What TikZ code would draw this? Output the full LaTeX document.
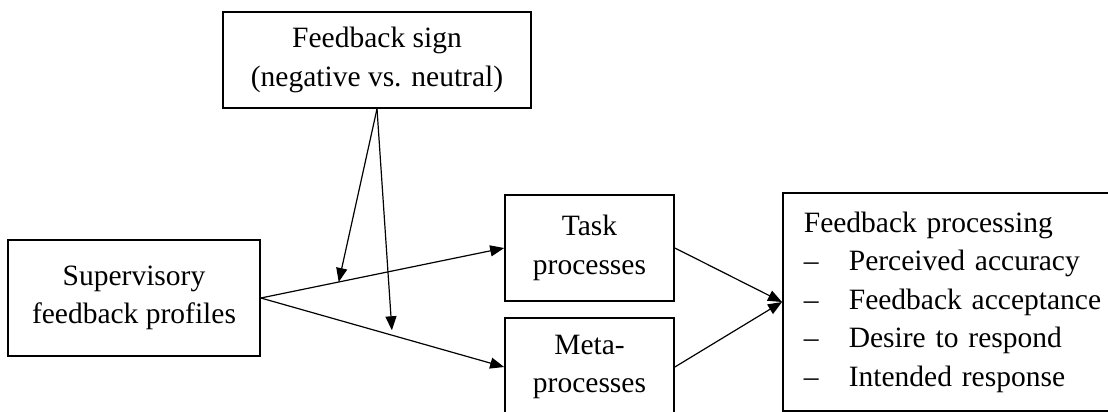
\documentclass[tikz,border=0pt]{standalone}
\usepackage{fontspec}
\setmainfont{Liberation Serif}
\usetikzlibrary{arrows.meta,calc}
\begin{document}
\begin{tikzpicture}[x=1pt,y=-1pt,
  txt/.style={font=\fontsize{29.5}{38.5}\selectfont},
  box/.style={draw,line width=1.7pt,inner sep=0pt,align=center,txt},
  conn/.style={line width=1.2pt,-{Triangle[length=14pt,width=11pt]}}]
\useasboundingbox (0,0) rectangle (1108,412);
\clip (0,0) rectangle (1108,412);
\fill[white] (0,0) rectangle (1108,412);

% boxes
\node[box,minimum width=308pt,minimum height=96pt] (sign) at (377,60)
  {Feedback sign\\(negative vs. neutral)};
\node[box,minimum width=252pt,minimum height=116pt] (sup) at (134,298)
  {Supervisory\\feedback profiles};
\node[box,minimum width=169pt,minimum height=106pt] (task) at (589.5,248)
  {Task\\processes};
\node[box,minimum width=169pt,minimum height=98pt] (meta) at (589.5,367)
  {Meta-\\processes};
\node[box,align=left,text width=320pt,inner xsep=21pt,minimum height=218pt,anchor=west]
  (proc) at (782,302)
  {Feedback processing\\
   \makebox[45pt][l]{–}Perceived accuracy\\
   \makebox[45pt][l]{–}Feedback acceptance\\
   \makebox[45pt][l]{–}Desire to respond\\
   \makebox[45pt][l]{–}Intended response};

% main paths
\draw[conn] (sup.east) -- (task.west);
\draw[conn] (sup.east) -- (meta.west);
\draw[conn] (task.east) -- (proc.west);
\draw[conn] (meta.east) -- (proc.west);

% moderating arrows onto the two paths
\path (sup.east) -- (task.west) coordinate[pos=0.32] (m1);
\path (sup.east) -- (meta.west) coordinate[pos=0.54] (m2);
\draw[conn] (sign.south) -- (m1);
\draw[conn,shorten >=5pt] (sign.south) -- (m2);
\end{tikzpicture}
\end{document}
